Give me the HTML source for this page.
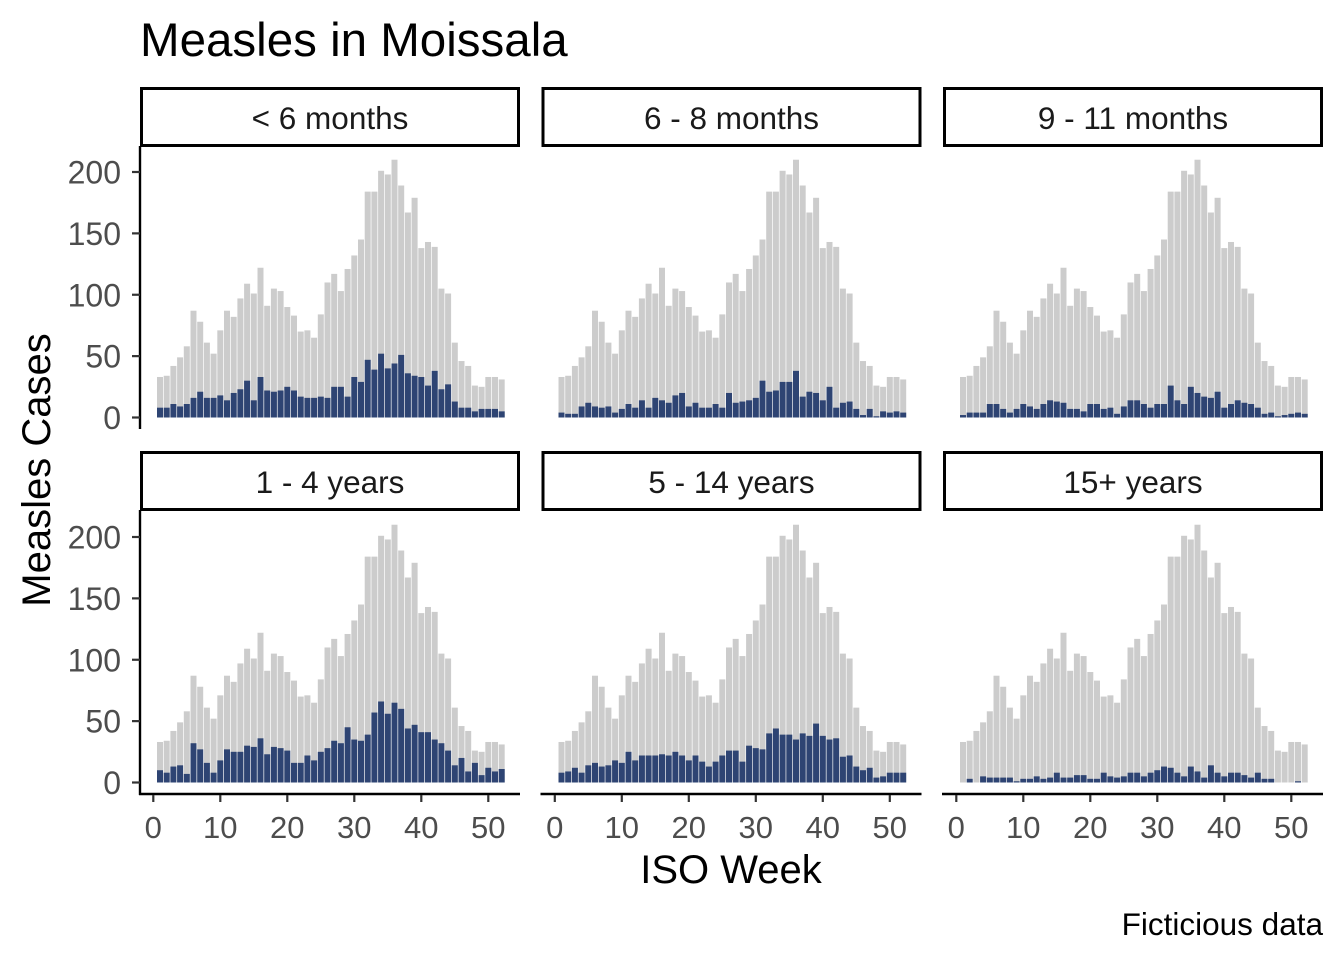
<!DOCTYPE html>
<html><head><meta charset="utf-8"><style>
html,body{margin:0;padding:0;background:#fff;}
svg text{font-family:"Liberation Sans",Arial,sans-serif;}
</style></head><body>
<svg id="chart" width="1344" height="960" xmlns="http://www.w3.org/2000/svg">
<text x="140" y="56" font-size="47.5" fill="#000">Measles in Moissala</text>
<text transform="translate(50,470) rotate(-90)" text-anchor="middle" font-size="40" fill="#000">Measles Cases</text>
<text x="731" y="883" text-anchor="middle" font-size="40" fill="#000">ISO Week</text>
<text x="1323" y="935" text-anchor="end" font-size="31.5" fill="#000">Ficticious data</text>
<g id="panels"></g>
</svg>
<script>
const weeks = Array.from({length:52},(_,i)=>i+1);
const totalCases = [33,34,42,49,58,87,78,61,52,71,87,82,97,109,101,122,91,105,103,90,83,70,71,65,84,110,117,103,121,132,145,184,184,201,198,210,189,167,179,138,143,139,105,101,61,46,42,26,25,33,33,31];
const facetLabels = ["< 6 months","6 - 8 months","9 - 11 months","1 - 4 years","5 - 14 years","15+ years"];
const casesUnder6m = [8,8,11,9,11,16,21,16,16,18,14,20,23,30,14,33,22,21,22,25,22,17,16,16,17,16,25,25,17,33,29,47,39,52,40,44,51,36,34,33,26,38,23,27,13,8,8,5,7,7,7,5];
const cases6to8m = [4,3,3,9,12,9,8,9,4,7,11,8,14,8,16,14,12,18,20,9,12,8,8,11,8,20,12,13,14,16,30,21,22,29,29,38,17,21,20,14,25,8,12,13,7,2,7,1,5,4,5,4];
const cases9to11m = [2,4,4,4,11,11,7,4,7,11,9,7,11,14,13,12,7,7,5,11,11,7,8,3,9,14,14,11,8,11,11,26,14,11,25,20,17,16,21,8,11,14,12,11,8,3,4,1,2,3,4,3];
const cases1to4y = [10,8,13,14,7,32,27,16,8,18,27,25,25,30,29,36,23,29,28,26,16,16,22,18,25,28,34,32,45,35,34,39,57,66,56,65,60,44,47,41,41,35,32,26,14,20,9,16,6,12,9,11];
const cases5to14y = [8,9,12,8,14,16,13,14,18,16,25,18,22,22,22,23,22,25,22,18,22,17,13,17,22,26,26,17,30,28,27,40,44,39,39,35,40,38,48,38,35,36,21,22,13,10,12,4,5,8,8,8];
const cases15plus = [0,3,0,5,4,4,4,4,1,3,3,5,3,4,8,4,4,6,6,3,3,8,5,4,5,8,8,5,8,10,13,12,8,5,13,9,4,14,8,5,8,8,6,4,8,3,3,0,0,0,1,0];
const yTicks = [0,50,100,150,200];
const xTicks = [0,10,20,30,40,50];
const facetSeries = [casesUnder6m,cases6to8m,cases9to11m,cases1to4y,cases5to14y,cases15plus];

const NS="http://www.w3.org/2000/svg";
const root=document.getElementById('panels');
function mk(tag,attrs,parent){const e=document.createElementNS(NS,tag);for(const k in attrs)e.setAttribute(k,attrs[k]);(parent||root).appendChild(e);return e;}
const colX0=[140,541.5,943], rowTop=[87,451], panelW=380, stripH=59;
function xScale(c,w){return colX0[c]+13.3+w*6.7;}
function yScale(r,v){return (r===0?417.5:782.5)-v*1.2275;}
const bw=6;
for(let p=0;p<6;p++){
  const r=Math.floor(p/3), c=p%3;
  const g=mk('g',{});
  
  
  const strip=mk('rect',{x:colX0[c]+1.5,y:rowTop[r]+1.5,width:panelW-3,height:stripH-2,fill:'#fff',stroke:'#000','stroke-width':3},g);
  
  
  const st=mk('text',{x:colX0[c]+panelW/2,y:rowTop[r]+42,'text-anchor':'middle','font-size':31.5,fill:'#1a1a1a'},g);
  st.textContent=facetLabels[p];
  
  
  const series=facetSeries[p];
  weeks.forEach((w,i)=>{
    const x=xScale(c,w)-bw/2;
    const gy=yScale(r,totalCases[i]);
    const gb=mk('rect',{x:x,y:gy,width:bw,height:yScale(r,0)-gy,fill:'#cccccc'},g);
    
    
    const by=yScale(r,series[i]);
    const bb=mk('rect',{x:x,y:by,width:bw,height:yScale(r,0)-by,fill:'#2e4473'},g);
    
    
  });
  if(c===0){
    const yl=mk('line',{x1:colX0[c],x2:colX0[c],y1:rowTop[r]+stripH,y2:r===0?429:795,stroke:'#000','stroke-width':2.4},g);
    
    
    yTicks.forEach(t=>{
      const y=yScale(r,t);
      const tl=mk('line',{x1:colX0[c]-8,x2:colX0[c],y1:y,y2:y,stroke:'#333','stroke-width':2.2},g);
      
      
      const tt=mk('text',{x:colX0[c]-19,y:y+11.5,'text-anchor':'end','font-size':32,fill:'#4d4d4d'},g);
      tt.textContent=t;
      
      
    });
  }
  if(r===1){
    const xl=mk('line',{x1:colX0[c]-1,x2:colX0[c]+panelW,y1:794,y2:794,stroke:'#000','stroke-width':2.4},g);
    
    
    xTicks.forEach(t=>{
      const x=xScale(c,t);
      const tl=mk('line',{x1:x,x2:x,y1:795,y2:802,stroke:'#333','stroke-width':2.2},g);
      
      
      const tt=mk('text',{x:x,y:838,'text-anchor':'middle','font-size':31,fill:'#4d4d4d'},g);
      tt.textContent=t;
      
      
    });
  }
}
</script>
</body></html>
